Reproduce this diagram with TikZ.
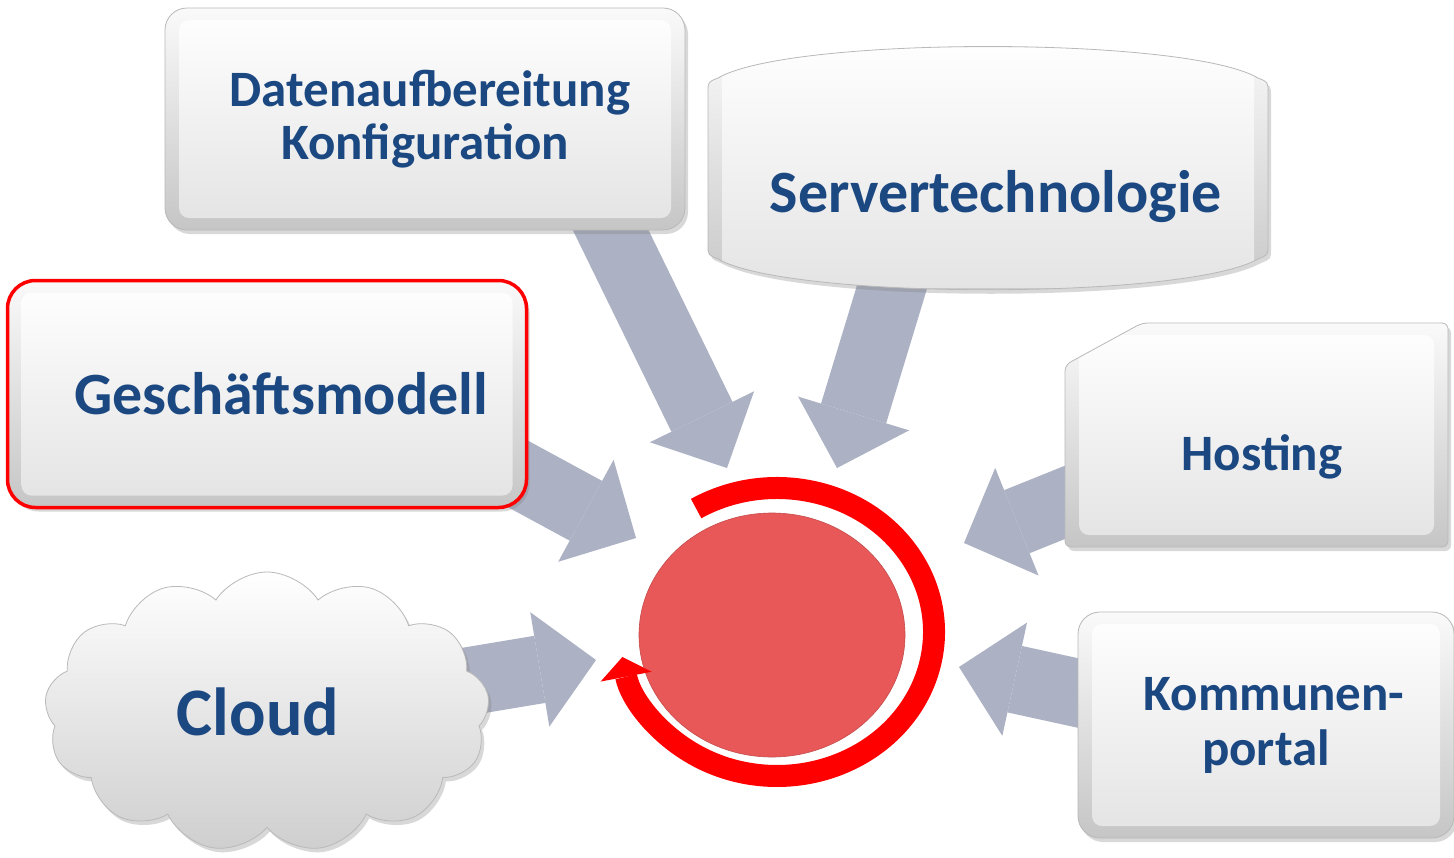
\documentclass[tikz,border=0pt]{standalone}
\usepackage{fontspec}
\setmainfont{Carlito}
\usetikzlibrary{arrows.meta,shapes.geometric,shapes.symbols,shadows,backgrounds,calc}

\definecolor{labelblue}{RGB}{28,72,130}
\definecolor{flowgray}{RGB}{172,178,196}
\definecolor{corered}{RGB}{232,88,88}
\definecolor{ringred}{RGB}{255,0,0}

\tikzset{
  panel/.style={top color=gray!4, bottom color=gray!45, draw=gray!55, line width=0.8pt,
    drop shadow={shadow xshift=3pt, shadow yshift=-4pt, opacity=0.3},
    path picture={\shade[top color=white, bottom color=gray!22, rounded corners=10pt]
      ([shift={(14pt,-12pt)}]path picture bounding box.north west) rectangle
      ([shift={(-14pt,12pt)}]path picture bounding box.south east);}},
  box/.style={panel, rectangle, rounded corners=22pt, align=center, text=labelblue},
  cloudpanel/.style={cloud, cloud puffs=13, cloud puff arc=115, aspect=1.6, top color=white, bottom color=gray!38,
    draw=gray!55, line width=0.8pt, text=labelblue,
    drop shadow={shadow xshift=3pt, shadow yshift=-4pt, opacity=0.3}},
  boxtext/.style={text=labelblue, align=center},
  flow/.style={line width=68pt, draw=flowgray, -{Triangle[length=57pt,width=116pt,line width=0pt]}},
  ring/.style={line width=22pt, draw=ringred, -{Triangle[length=20pt,width=52pt,line width=0pt]}},
}

\begin{document}
\begin{tikzpicture}[x=1pt, y=-1pt]
    \useasboundingbox (0,0) rectangle (1454,857);

    % Boxes
    \node[box, minimum width=520pt, minimum height=222pt,
          font=\bfseries\fontsize{51}{53}\selectfont] (daten) at (425,119)
          {\hspace*{10pt}Datenaufbereitung\\Konfiguration};

    \path[panel] (708,92) .. controls (708,82) .. (718,78)
        .. controls (790,36) and (1186,36) .. (1258,78)
        .. controls (1268,82) .. (1268,92) -- (1268,245)
        .. controls (1268,255) .. (1258,259)
        .. controls (1186,300) and (790,300) .. (718,259)
        .. controls (708,255) .. (708,245) -- cycle;
    \node[boxtext, font=\bfseries\fontsize{60}{66}\selectfont] (server) at (996,197) {Servertechnologie};

    \node[box, draw=red, line width=3.5pt, rounded corners=28pt, minimum width=519pt, minimum height=227pt,
          font=\bfseries\fontsize{60}{66}\selectfont] (modell) at (267,394) {\hspace*{28pt}Geschäftsmodell};

    \path[panel, rounded corners=6pt] (1065,365) -- (1142,323) -- (1448,323) -- (1448,547)
        -- (1065,547) -- cycle;
    \node[boxtext, font=\bfseries\fontsize{51}{56}\selectfont] (hosting) at (1262,457) {Hosting};

    \node[box, minimum width=376pt, minimum height=226pt,
          font=\bfseries\fontsize{51}{55}\selectfont] (portal) at (1266,725) {\hspace*{16pt}Kommunen-\\portal};

    \node[cloudpanel, minimum width=445pt, minimum height=280pt,
          font=\bfseries\fontsize{68}{70}\selectfont] (cloud) at (267,712) {Cloud\hspace*{18pt}};

    % Centre
    \node[ellipse, fill=corered, draw=corered!85!black, line width=0.6pt,
          minimum width=266pt, minimum height=244pt] (core) at (772,635) {};
    \coordinate (hub) at ($(core)+(5,-3)$);
    \draw[ring] ([shift={(-121:157 and 144)}]hub)
        arc[start angle=-121, end angle=170, x radius=157, y radius=144];

    % Arrows into the centre
    \coordinate (in-daten) at (727,468);
    \coordinate (in-server) at (837,468);
    \coordinate (in-modell) at (636,538);
    \coordinate (in-cloud) at (596,660);
    \coordinate (in-hosting) at (964,543);
    \coordinate (in-portal) at (959,667);

    \begin{scope}[on background layer]
        \fill[white] (0,0) rectangle (1454,857);
        \draw[flow] ($(daten.south)+(177,-18)$) -- (in-daten);
        \draw[flow] ($(server)+(-97,67)$) -- (in-server);
        \draw[flow] ($(modell.east)+(-23,73)$) -- (in-modell);
        \draw[flow] ($(cloud)+(161,-24)$) -- (in-cloud);
        \draw[flow] ($(hosting)+(-159,30)$) -- (in-hosting);
        \draw[flow] ($(portal.west)+(37,-24)$) -- (in-portal);
    \end{scope}
\end{tikzpicture}
\end{document}
